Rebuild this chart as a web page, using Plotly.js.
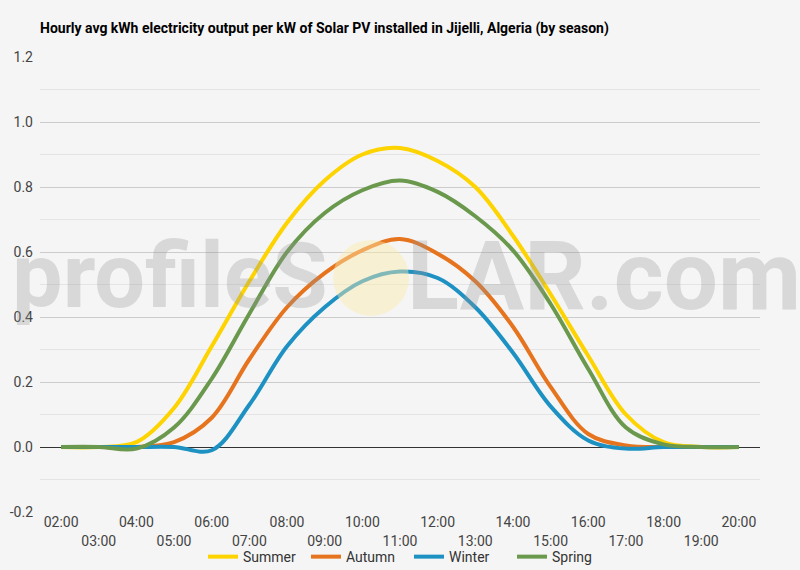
<!DOCTYPE html>
<html>
<head>
<meta charset="utf-8">
<script src="https://cdn.plot.ly/plotly-3.0.1.min.js"></script>
<style>
  body{margin:0;background:#f5f5f5;}
  #chart{width:800px;height:570px;}
</style>
</head>
<body>
<div id="chart"></div>
<script>

var hours = ['02:00','03:00','04:00','05:00','06:00','07:00','08:00','09:00','10:00','11:00',
             '12:00','13:00','14:00','15:00','16:00','17:00','18:00','19:00','20:00'];

var summer = [0, 0, 0.015, 0.12, 0.31, 0.51, 0.69, 0.82, 0.90, 0.92, 0.88, 0.80, 0.65, 0.47, 0.28, 0.10, 0.015, 0, 0];
var autumn = [0, 0, 0, 0.015, 0.09, 0.27, 0.43, 0.535, 0.605, 0.64, 0.595, 0.51, 0.37, 0.185, 0.04, 0.005, 0, 0, 0];
var winter = [0, 0, 0, 0, -0.01, 0.13, 0.31, 0.43, 0.51, 0.54, 0.52, 0.43, 0.29, 0.125, 0.02, -0.005, 0, 0, 0];
var spring = [0, 0, -0.005, 0.06, 0.21, 0.41, 0.60, 0.72, 0.79, 0.82, 0.785, 0.71, 0.605, 0.44, 0.24, 0.06, 0.008, 0, 0];

var seriesNames = ['Summer','Autumn','Winter','Spring'];
var seriesColors = ['#fdd300','#e6731e','#1e91c3','#6a994e'];

var yTicks = [-0.2, 0, 0.2, 0.4, 0.6, 0.8, 1.0, 1.2];

// even hours on the first row, odd hours on the second
var evenHours = hours.filter(function(h, i){ return i % 2 == 0; });
var oddHours = hours.filter(function(h, i){ return i % 2 == 1; });

var allSeries = [summer, autumn, winter, spring];
var data = [];
for(var i = 0; i < allSeries.length; i++){
  data.push({
    type: 'scatter',
    mode: 'lines',
    name: seriesNames[i],
    x: hours,
    y: allSeries[i],
    line: {color: seriesColors[i], width: 4, shape: 'spline', smoothing: 1},
    hoverinfo: 'x+y+name'
  });
}
// empty trace so the second row of hour labels gets drawn
data.push({
  type: 'scatter',
  mode: 'lines',
  x: oddHours,
  y: oddHours.map(function(){ return null; }),
  xaxis: 'x2',
  showlegend: false,
  hoverinfo: 'skip'
});

var tickFont = {family: 'Roboto, sans-serif', size: 14, color: '#444'};
var markColor = 'rgba(150,150,150,0.3)';

var layout = {
  width: 800,
  height: 570,
  paper_bgcolor: '#f5f5f5',
  plot_bgcolor: '#f5f5f5',
  margin: {l: 40, r: 40, t: 57, b: 58, autoexpand: false},
  title: {
    text: 'Hourly avg kWh electricity output per kW of Solar PV installed in Jijelli, Algeria (by season)',
    x: 0.05, xanchor: 'left', xref: 'container',
    y: 1 - 28/570, yanchor: 'middle', yref: 'container',
    font: {family: 'Roboto, sans-serif', size: 14, color: '#000', weight: 'bold'}
  },
  showlegend: true,
  legend: {
    orientation: 'h',
    x: 0.2264, xanchor: 'left',
    y: -0.099, yanchor: 'middle',
    font: {family: 'Roboto, sans-serif', size: 14, color: '#333'},
    bgcolor: 'rgba(0,0,0,0)',
    itemwidth: 30,
    entrywidth: 58,
    entrywidthmode: 'pixels',
    tracegroupgap: 0
  },
  xaxis: {
    type: 'category',
    categoryorder: 'array',
    categoryarray: hours,
    range: [-0.56, 18.56],
    tickmode: 'array',
    tickvals: evenHours,
    ticktext: evenHours,
    ticks: '',
    showgrid: false,
    zeroline: false,
    showline: false,
    tickfont: tickFont,
    fixedrange: true
  },
  xaxis2: {
    type: 'category',
    categoryorder: 'array',
    categoryarray: hours,
    range: [-0.56, 18.56],
    overlaying: 'x',
    anchor: 'y',
    side: 'bottom',
    tickmode: 'array',
    tickvals: oddHours,
    ticktext: oddHours,
    ticks: '',
    ticklabelstandoff: 19,
    showgrid: false,
    zeroline: false,
    showline: false,
    tickfont: tickFont,
    fixedrange: true
  },
  yaxis: {
    range: [-0.2, 1.2],
    tickmode: 'array',
    tickvals: yTicks,
    ticktext: yTicks.map(function(v){ return v.toFixed(1); }),
    ticks: '',
    ticklabelstandoff: 6,
    showgrid: true,
    gridcolor: '#cccccc',
    gridwidth: 1,
    minor: {dtick: 0.1, showgrid: true, gridcolor: '#e4e4e4', gridwidth: 1},
    zeroline: true,
    zerolinecolor: '#333333',
    zerolinewidth: 1,
    showline: false,
    tickfont: tickFont,
    fixedrange: true
  },
  shapes: [
    {
      type: 'circle', xref: 'paper', yref: 'paper', layer: 'above',
      x0: 0.407, x1: 0.5125, y0: 0.431, y1: 0.598,
      fillcolor: 'rgba(253,236,170,0.45)',
      line: {width: 0}
    }
  ],
  annotations: [
    {
      xref: 'paper', yref: 'paper',
      x: 0.403, xanchor: 'right',
      y: 0.518, yanchor: 'middle',
      text: 'profileS',
      showarrow: false,
      font: {family: 'Roboto, sans-serif', size: 90, color: markColor, weight: 700}
    },
    {
      xref: 'paper', yref: 'paper',
      x: 0.507, xanchor: 'left',
      y: 0.518, yanchor: 'middle',
      text: 'LAR.com',
      showarrow: false,
      font: {family: 'Roboto, sans-serif', size: 96, color: markColor, weight: 700}
    }
  ]
};

Plotly.newPlot('chart', data, layout, {displayModeBar: false, staticPlot: true});
</script>
</body>
</html>
